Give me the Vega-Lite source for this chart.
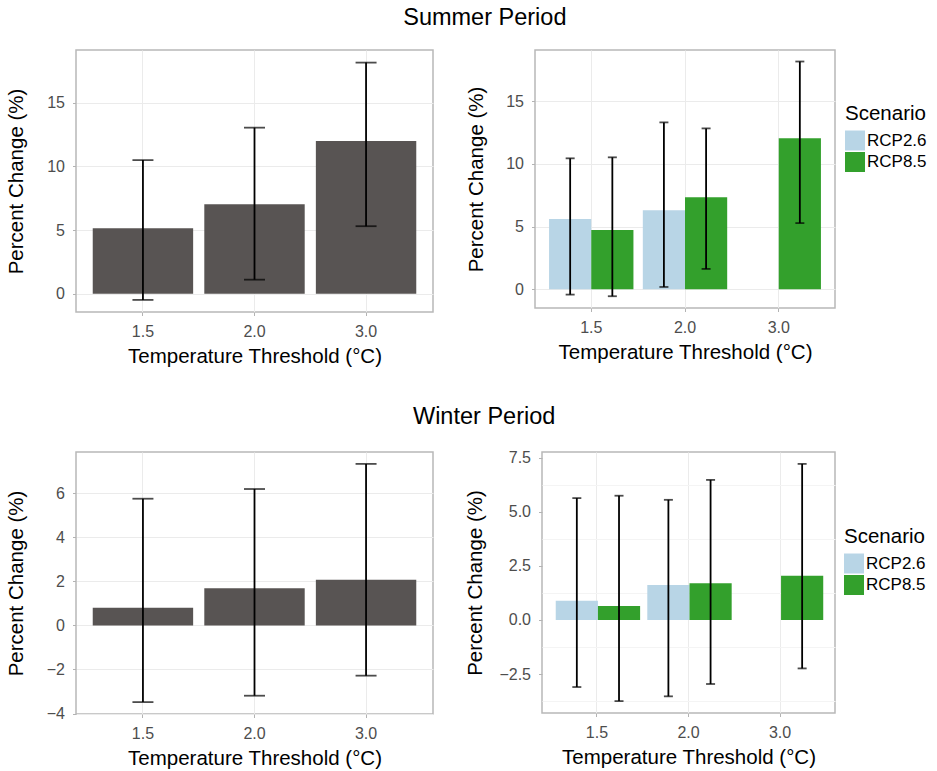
{
  "$schema": "https://vega.github.io/schema/vega-lite/v6.json",
  "background": "white",
  "padding": {"left": 5, "top": 5, "right": 5, "bottom": 0},
  "config": {
    "font": "Liberation Sans",
    "view": {"stroke": "#b8b8b8", "strokeWidth": 1.5},
    "axis": {
      "labelFont": "Liberation Sans",
      "labelFontSize": 16,
      "labelColor": "#4d4d4d",
      "titleFont": "Liberation Sans",
      "titleFontSize": 20.5,
      "titleFontWeight": "normal",
      "titleColor": "black",
      "tickColor": "#b3b3b3",
      "tickSize": 3.5,
      "tickWidth": 1,
      "labelPadding": 8,
      "domain": false,
      "grid": true,
      "gridColor": "#ebebeb",
      "gridWidth": 1
    },
    "axisX": {"titlePadding": 7, "labelAngle": 0},
    "legend": {
      "titleFont": "Liberation Sans",
      "titleFontSize": 20.5,
      "titleFontWeight": "normal",
      "titleColor": "black",
      "labelFont": "Liberation Sans",
      "labelFontSize": 17,
      "labelColor": "black",
      "symbolType": "square",
      "symbolSize": 400,
      "symbolStrokeWidth": 0,
      "rowPadding": 1.5,
      "labelOffset": 2,
      "titlePadding": 6,
      "padding": 0
    },
    "title": {"font": "Liberation Sans", "fontSize": 23.5, "fontWeight": "normal", "color": "black", "anchor": "middle"}
  },
  "datasets": {
    "summer_all": [
      {"threshold": "1.5", "change": 5.13, "lower": -0.49, "upper": 10.49},
      {"threshold": "2.0", "change": 7.02, "lower": 1.1, "upper": 13.04},
      {"threshold": "3.0", "change": 12.0, "lower": 5.3, "upper": 18.15}
    ],
    "summer_scen": [
      {"threshold": "1.5", "scenario": "RCP2.6", "change": 5.6, "lower": -0.43, "upper": 10.45},
      {"threshold": "1.5", "scenario": "RCP8.5", "change": 4.72, "lower": -0.56, "upper": 10.53},
      {"threshold": "2.0", "scenario": "RCP2.6", "change": 6.31, "lower": 0.18, "upper": 13.32},
      {"threshold": "2.0", "scenario": "RCP8.5", "change": 7.35, "lower": 1.62, "upper": 12.84},
      {"threshold": "3.0", "scenario": "RCP2.6", "change": 0, "lower": null, "upper": null},
      {"threshold": "3.0", "scenario": "RCP8.5", "change": 12.05, "lower": 5.28, "upper": 18.18}
    ],
    "winter_all": [
      {"threshold": "1.5", "change": 0.8, "lower": -3.48, "upper": 5.75},
      {"threshold": "2.0", "change": 1.69, "lower": -3.19, "upper": 6.19},
      {"threshold": "3.0", "change": 2.07, "lower": -2.28, "upper": 7.33}
    ],
    "winter_scen": [
      {"threshold": "1.5", "scenario": "RCP2.6", "change": 0.89, "lower": -3.1, "upper": 5.63},
      {"threshold": "1.5", "scenario": "RCP8.5", "change": 0.64, "lower": -3.75, "upper": 5.74},
      {"threshold": "2.0", "scenario": "RCP2.6", "change": 1.62, "lower": -3.53, "upper": 5.55},
      {"threshold": "2.0", "scenario": "RCP8.5", "change": 1.7, "lower": -2.96, "upper": 6.47},
      {"threshold": "3.0", "scenario": "RCP2.6", "change": 0, "lower": null, "upper": null},
      {"threshold": "3.0", "scenario": "RCP8.5", "change": 2.04, "lower": -2.24, "upper": 7.21}
    ]
  },
  "resolve": {"scale": {"color": "independent"}, "legend": {"color": "independent"}},
  "spacing": 37,
  "vconcat": [
    {
      "title": {"text": "Summer Period", "dx": 18, "fontSize": 23.5, "offset": 20},
      "bounds": "flush",
      "spacing": 102,
      "resolve": {"scale": {"color": "independent"}, "legend": {"color": "independent"}},
      "hconcat": [
        {
          "width": 357, "height": 262,
          "data": {"name": "summer_all"},
          "encoding": {
            "x": {"field": "threshold", "type": "nominal", "title": "Temperature Threshold (°C)",
                  "scale": {"paddingInner": 0.1, "paddingOuter": 0.15},
                  "axis": {"bandPosition": 0.5}}
          },
          "layer": [
            {"mark": {"type": "bar", "color": "#585453"},
             "encoding": {"y": {"field": "change", "type": "quantitative", "title": "Percent Change (%)",
               "scale": {"domain": [-1.44, 19.14], "nice": false, "zero": false},
               "axis": {"values": [0, 2.5, 5, 7.5, 10, 12.5, 15, 17.5], "titlePadding": 20,
                        "labelExpr": "datum.value % 5 === 0 ? datum.label : ''",
                        "gridColor": {"condition": {"test": "datum.value % 5 === 0", "value": "#ebebeb"}, "value": "#f4f4f4"},
                        "tickOpacity": {"condition": {"test": "datum.value % 5 === 0", "value": 1}, "value": 0}}}}},
            {"mark": {"type": "rule", "color": "black", "strokeWidth": 1.8},
             "encoding": {"y": {"field": "lower", "type": "quantitative", "title": "Percent Change (%)"}, "y2": {"field": "upper"}}},
            {"mark": {"type": "tick", "color": "black", "thickness": 1.8, "size": 21},
             "encoding": {"y": {"field": "lower", "type": "quantitative", "title": "Percent Change (%)"}}},
            {"mark": {"type": "tick", "color": "black", "thickness": 1.8, "size": 21},
             "encoding": {"y": {"field": "upper", "type": "quantitative", "title": "Percent Change (%)"}}}
          ]
        },
        {
          "width": 300, "height": 258,
          "data": {"name": "summer_scen"},
          "encoding": {
            "x": {"field": "threshold", "type": "nominal", "title": "Temperature Threshold (°C)",
                  "scale": {"paddingInner": 0.1, "paddingOuter": 0.15},
                  "axis": {"bandPosition": 0.5}},
            "xOffset": {"field": "scenario", "type": "nominal", "scale": {"domain": ["RCP2.6", "RCP8.5"], "paddingInner": 0, "paddingOuter": 0}}
          },
          "layer": [
            {"mark": {"type": "bar"},
             "encoding": {
               "y": {"field": "change", "type": "quantitative", "title": "Percent Change (%)",
                 "scale": {"domain": [-1.5, 19.1], "nice": false, "zero": false},
                 "axis": {"values": [0, 2.5, 5, 7.5, 10, 12.5, 15, 17.5], "titlePadding": 19,
                          "labelExpr": "datum.value % 5 === 0 ? datum.label : ''",
                          "gridColor": {"condition": {"test": "datum.value % 5 === 0", "value": "#ebebeb"}, "value": "#f4f4f4"},
                          "tickOpacity": {"condition": {"test": "datum.value % 5 === 0", "value": 1}, "value": 0}}},
               "color": {"field": "scenario", "type": "nominal", "title": "Scenario",
                 "scale": {"domain": ["RCP2.6", "RCP8.5"], "range": ["#b8d5e6", "#33a02c"]},
                 "legend": {"orient": "none", "legendX": 310, "legendY": 54}}}},
            {"mark": {"type": "rule", "color": "black", "strokeWidth": 1.8},
             "encoding": {"y": {"field": "lower", "type": "quantitative", "title": "Percent Change (%)"}, "y2": {"field": "upper"}}},
            {"mark": {"type": "tick", "color": "black", "thickness": 1.8, "size": 9},
             "encoding": {"y": {"field": "lower", "type": "quantitative", "title": "Percent Change (%)"}}},
            {"mark": {"type": "tick", "color": "black", "thickness": 1.8, "size": 9},
             "encoding": {"y": {"field": "upper", "type": "quantitative", "title": "Percent Change (%)"}}}
          ]
        }
      ]
    },
    {
      "title": {"text": "Winter Period", "dx": 18, "fontSize": 23.5, "offset": 20},
      "bounds": "flush",
      "spacing": 109,
      "resolve": {"scale": {"color": "independent"}, "legend": {"color": "independent"}},
      "hconcat": [
        {
          "width": 357, "height": 262,
          "data": {"name": "winter_all"},
          "encoding": {
            "x": {"field": "threshold", "type": "nominal", "title": "Temperature Threshold (°C)",
                  "scale": {"paddingInner": 0.1, "paddingOuter": 0.15},
                  "axis": {"bandPosition": 0.5}}
          },
          "layer": [
            {"mark": {"type": "bar", "color": "#585453"},
             "encoding": {"y": {"field": "change", "type": "quantitative", "title": "Percent Change (%)",
               "scale": {"domain": [-4.02, 7.87], "nice": false, "zero": false},
               "axis": {"values": [-4, -3, -2, -1, 0, 1, 2, 3, 4, 5, 6, 7], "titlePadding": 20,
                        "labelExpr": "datum.value % 2 === 0 ? datum.label : ''",
                        "gridColor": {"condition": {"test": "datum.value % 2 === 0", "value": "#ebebeb"}, "value": "#f4f4f4"},
                        "tickOpacity": {"condition": {"test": "datum.value % 2 === 0", "value": 1}, "value": 0}}}}},
            {"mark": {"type": "rule", "color": "black", "strokeWidth": 1.8},
             "encoding": {"y": {"field": "lower", "type": "quantitative", "title": "Percent Change (%)"}, "y2": {"field": "upper"}}},
            {"mark": {"type": "tick", "color": "black", "thickness": 1.8, "size": 21},
             "encoding": {"y": {"field": "lower", "type": "quantitative", "title": "Percent Change (%)"}}},
            {"mark": {"type": "tick", "color": "black", "thickness": 1.8, "size": 21},
             "encoding": {"y": {"field": "upper", "type": "quantitative", "title": "Percent Change (%)"}}}
          ]
        },
        {
          "width": 293, "height": 261,
          "data": {"name": "winter_scen"},
          "resolve": {"axis": {"y": "independent"}},
          "encoding": {
            "x": {"field": "threshold", "type": "nominal", "title": "Temperature Threshold (°C)",
                  "scale": {"paddingInner": 0.1, "paddingOuter": 0.15},
                  "axis": {"bandPosition": 0.5}},
            "xOffset": {"field": "scenario", "type": "nominal", "scale": {"domain": ["RCP2.6", "RCP8.5"], "paddingInner": 0, "paddingOuter": 0}}
          },
          "layer": [
            {"mark": {"type": "rule", "color": "black", "strokeWidth": 1.8, "opacity": 0},
             "encoding": {"y": {"field": "lower", "type": "quantitative",
                 "scale": {"domain": [-4.3, 7.76], "nice": false, "zero": false},
                 "axis": {"orient": "left", "values": [-3.75, -1.25, 1.25, 3.75, 6.25], "labels": false, "ticks": false, "title": null, "gridColor": "#f4f4f4"}},
               "y2": {"field": "upper"}}},
            {"mark": {"type": "bar"},
             "encoding": {
               "y": {"field": "change", "type": "quantitative", "title": "Percent Change (%)",
                 "scale": {"domain": [-4.3, 7.76], "nice": false, "zero": false},
                 "axis": {"orient": "left", "values": [-2.5, 0, 2.5, 5, 7.5], "format": ".1f", "titlePadding": 13, "labelOverlap": false, "gridColor": "#ebebeb"}},
               "color": {"field": "scenario", "type": "nominal", "title": "Scenario",
                 "scale": {"domain": ["RCP2.6", "RCP8.5"], "range": ["#b8d5e6", "#33a02c"]},
                 "legend": {"orient": "none", "legendX": 302, "legendY": 75}}}},
            {"mark": {"type": "rule", "color": "black", "strokeWidth": 1.8},
             "encoding": {"y": {"field": "lower", "type": "quantitative", "axis": null}, "y2": {"field": "upper"}}},
            {"mark": {"type": "tick", "color": "black", "thickness": 1.8, "size": 9},
             "encoding": {"y": {"field": "lower", "type": "quantitative", "axis": null}}},
            {"mark": {"type": "tick", "color": "black", "thickness": 1.8, "size": 9},
             "encoding": {"y": {"field": "upper", "type": "quantitative", "axis": null}}}
          ]
        }
      ]
    }
  ]
}
